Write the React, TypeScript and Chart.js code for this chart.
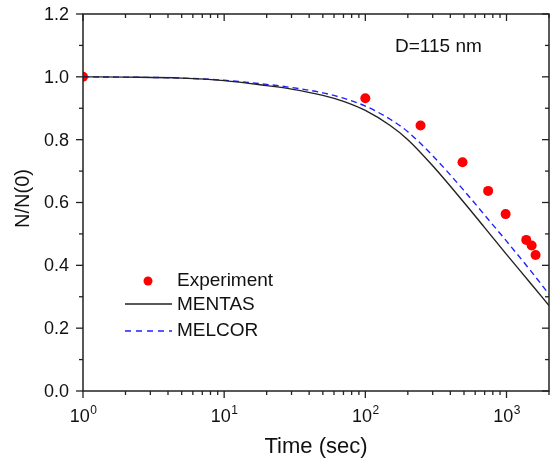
import { useEffect, useRef } from 'react';
import { Chart, registerables } from 'chart.js';

Chart.register(...registerables);

// Experimental data
const expTime = [1, 100, 246, 488, 741, 986, 1380, 1507, 1607];
const expValue = [1.0, 0.932, 0.845, 0.728, 0.637, 0.563, 0.481, 0.463, 0.433];

// Model curves
const modelTime = [1, 2, 5, 10, 20, 30, 50, 70, 100, 150, 200, 300, 500, 700, 1000, 1500, 2000];
const mentasValue = [1.0, 0.999, 0.996, 0.988, 0.972, 0.961, 0.941, 0.922, 0.893, 0.845, 0.8, 0.717, 0.6, 0.52, 0.435, 0.34, 0.272];
const melcorValue = [1.0, 0.999, 0.996, 0.989, 0.976, 0.966, 0.949, 0.932, 0.907, 0.865, 0.825, 0.749, 0.638, 0.56, 0.477, 0.38, 0.308];

// Axis ticks
const xMajorTicks = [1, 10, 100, 1000];
const xTickExponents = ['0', '1', '2', '3'];
const yMajorTicks = [0, 0.2, 0.4, 0.6, 0.8, 1.0, 1.2];
const yMinorTicks = [0.1, 0.3, 0.5, 0.7, 0.9, 1.1];

const seriesNames = ['Experiment', 'MENTAS', 'MELCOR'];
const annotation = 'D=115 nm';
const xTitle = 'Time (sec)';
const yTitle = 'N/N(0)';

const FONT = "'Liberation Sans', Arial, sans-serif";

export default function App() {
  const ref = useRef<HTMLCanvasElement>(null);

  useEffect(() => {
    const decorations = {
      id: 'decorations',
      afterDatasetsDraw(chart: any) {
        const ctx = chart.ctx as CanvasRenderingContext2D;
        const { left, right, top, bottom } = chart.chartArea;
        const xs = chart.scales.x;
        const ys = chart.scales.y;
        const axisColor = '#222';
        ctx.save();
        ctx.strokeStyle = axisColor;
        ctx.lineWidth = 1.5;
        ctx.strokeRect(left, top, right - left, bottom - top);

        ctx.lineWidth = 1.3;
        const line = (x1: number, y1: number, x2: number, y2: number) => {
          ctx.beginPath();
          ctx.moveTo(x1, y1);
          ctx.lineTo(x2, y2);
          ctx.stroke();
        };
        // y ticks
        yMajorTicks.forEach((v) => {
          const y = ys.getPixelForValue(v);
          line(left - 7, y, left, y);
          line(right, y, right - 7, y);
        });
        yMinorTicks.forEach((v) => {
          const y = ys.getPixelForValue(v);
          line(left - 4, y, left, y);
          line(right, y, right - 4, y);
        });
        // x ticks
        const xMin = xs.min;
        const xMax = xs.max;
        xMajorTicks.forEach((v) => {
          const x = xs.getPixelForValue(v);
          line(x, bottom, x, bottom + 7);
          line(x, top, x, top + 7);
        });
        for (let d = 1; d <= 1000; d *= 10) {
          for (let m = 2; m <= 9; m++) {
            const v = d * m;
            if (v < xMin || v > xMax) continue;
            const x = xs.getPixelForValue(v);
            line(x, bottom, x, bottom + 4);
            line(x, top, x, top + 4);
          }
        }

        // y labels
        ctx.fillStyle = '#111';
        ctx.font = `18px ${FONT}`;
        ctx.textAlign = 'right';
        ctx.textBaseline = 'middle';
        yMajorTicks.forEach((v) => {
          const y = ys.getPixelForValue(v);
          ctx.fillText(v.toFixed(1), left - 14, y + 1);
        });

        // x labels with superscripts
        ctx.textBaseline = 'alphabetic';
        ctx.textAlign = 'left';
        xMajorTicks.forEach((v, i) => {
          const x = xs.getPixelForValue(v);
          ctx.font = `18px ${FONT}`;
          const w1 = ctx.measureText('10').width;
          ctx.font = `12px ${FONT}`;
          const w2 = ctx.measureText(xTickExponents[i]).width;
          const start = x - (w1 + w2) / 2;
          ctx.font = `18px ${FONT}`;
          ctx.fillText('10', start, bottom + 31);
          ctx.font = `12px ${FONT}`;
          ctx.fillText(xTickExponents[i], start + w1 + 0.5, bottom + 23);
        });

        // axis titles
        ctx.font = `22px ${FONT}`;
        ctx.textAlign = 'center';
        ctx.textBaseline = 'middle';
        ctx.fillText(xTitle, (left + right) / 2, bottom + 56);
        ctx.save();
        ctx.translate(23, (top + bottom) / 2 - 4);
        ctx.rotate(-Math.PI / 2);
        ctx.font = `20px ${FONT}`;
        ctx.fillText(yTitle, 0, 0);
        ctx.restore();

        // annotation
        ctx.font = `19px ${FONT}`;
        ctx.textAlign = 'left';
        ctx.fillText(annotation, 395, 47);

        // legend
        const lx = 177;
        ctx.font = `19px ${FONT}`;
        ctx.fillStyle = '#ff0000';
        ctx.beginPath();
        ctx.arc(148, 281, 4.5, 0, Math.PI * 2);
        ctx.fill();
        ctx.fillStyle = '#111';
        ctx.fillText(seriesNames[0], lx, 281);

        ctx.strokeStyle = '#222';
        ctx.lineWidth = 1.3;
        line(125, 304, 172, 304);
        ctx.fillText(seriesNames[1], lx, 305);

        ctx.strokeStyle = '#2020ff';
        ctx.setLineDash([6, 5]);
        line(125, 331, 172, 331);
        ctx.setLineDash([]);
        ctx.fillText(seriesNames[2], lx, 331);
        ctx.restore();
      },
    };

    const toPts = (xs: number[], ys: number[]) => xs.map((x, i) => ({ x, y: ys[i] }));

    const chart = new Chart(ref.current!, {
      type: 'scatter',
      data: {
        datasets: [
          {
            label: seriesNames[1],
            data: toPts(modelTime, mentasValue),
            showLine: true,
            borderColor: '#222',
            borderWidth: 1.4,
            pointRadius: 0,
            cubicInterpolationMode: 'monotone',
            clip: 0,
          },
          {
            label: seriesNames[2],
            data: toPts(modelTime, melcorValue),
            showLine: true,
            borderColor: '#2020ff',
            borderWidth: 1.4,
            borderDash: [6, 4],
            pointRadius: 0,
            cubicInterpolationMode: 'monotone',
            clip: 0,
          },
          {
            label: seriesNames[0],
            data: toPts(expTime, expValue),
            showLine: false,
            backgroundColor: '#ff0000',
            borderColor: '#ff0000',
            pointRadius: 5,
            pointBorderWidth: 0,
            clip: 0,
          },
        ],
      },
      options: {
        animation: false,
        responsive: false,
        devicePixelRatio: 1,
        layout: { padding: { top: 14, right: 2, left: 0, bottom: 0 } },
        plugins: { legend: { display: false }, tooltip: { enabled: false } },
        scales: {
          x: {
            type: 'logarithmic',
            min: 1,
            max: 2000,
            grid: { display: false },
            border: { display: false },
            ticks: { display: false },
            afterFit: (s: any) => {
              s.height = 73;
            },
          },
          y: {
            type: 'linear',
            min: 0,
            max: 1.2,
            grid: { display: false },
            border: { display: false },
            ticks: { display: false },
            afterFit: (s: any) => {
              s.width = 83;
            },
          },
        },
      },
      plugins: [decorations],
    } as any);
    return () => chart.destroy();
  }, []);

  return (
    <div style={{ position: 'absolute', left: 0, top: 0, width: 554, height: 464, background: '#fff' }}>
      <canvas ref={ref} width={554} height={464} style={{ display: 'block' }} />
    </div>
  );
}
